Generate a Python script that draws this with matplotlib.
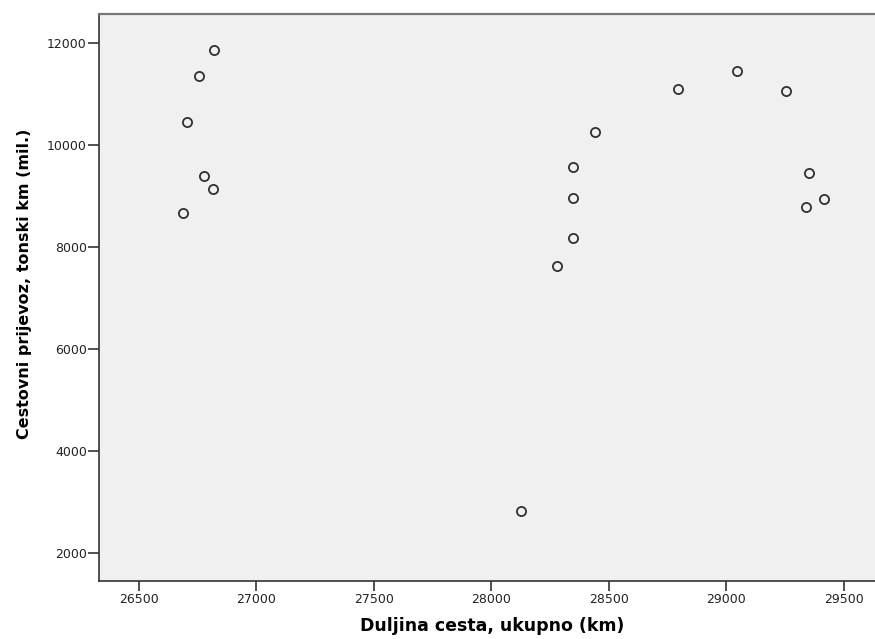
import matplotlib
matplotlib.use("Agg")
import matplotlib.pyplot as plt

# Duljina cesta (km) i cestovni prijevoz (mil. tonskih km)
duljina = [26821, 26754, 26707, 26778, 26815, 26688,
           28793, 29045, 29255, 28441, 28348, 28348,
           28348, 29350, 29416, 29337, 28278, 28125]
prijevoz = [11849, 11345, 10443, 9384, 9137, 8659,
            11098, 11443, 11051, 10247, 9561, 8961,
            8169, 9443, 8927, 8784, 7620, 2824]

x_ticks = [26500, 27000, 27500, 28000, 28500, 29000, 29500]
y_ticks = [2000, 4000, 6000, 8000, 10000, 12000]

fig = plt.figure(figsize=(8.75, 6.39), dpi=100)
ax = fig.add_axes([0.1135, 0.0908, 0.8865, 0.888])
ax.set_facecolor("#f0f0f0")

ax.plot(duljina, prijevoz, linestyle="none", marker="o", markersize=6.6,
        markerfacecolor="none", markeredgecolor="#303030", markeredgewidth=1.3)

ax.set_xlim(26332, 29632)
ax.set_ylim(1451, 12569)
ax.set_xticks(x_ticks)
ax.set_yticks(y_ticks)

for s in ["left", "bottom"]:
    ax.spines[s].set_color("#333333")
    ax.spines[s].set_linewidth(1.2)
ax.spines["top"].set_color("#777777")
ax.spines["top"].set_linewidth(1.6)
ax.spines["right"].set_visible(False)

ax.tick_params(axis="x", length=7, width=1.2, color="#333333", pad=2,
               labelsize=9, labelcolor="#222222")
ax.tick_params(axis="y", length=8, width=1.2, color="#333333", pad=1,
               labelsize=9, labelcolor="#222222")

ax.set_xlabel("Duljina cesta, ukupno (km)", fontsize=12.5, fontweight="bold")
ax.set_ylabel("Cestovni prijevoz, tonski km (mil.)", fontsize=11.5, fontweight="bold")
ax.xaxis.set_label_coords(0.506, -0.079)
ax.yaxis.set_label_coords(-0.096, 0.523)
ax.xaxis.label.set_va("center")
ax.yaxis.label.set_va("center")

fig.savefig("out.png", dpi=100)
